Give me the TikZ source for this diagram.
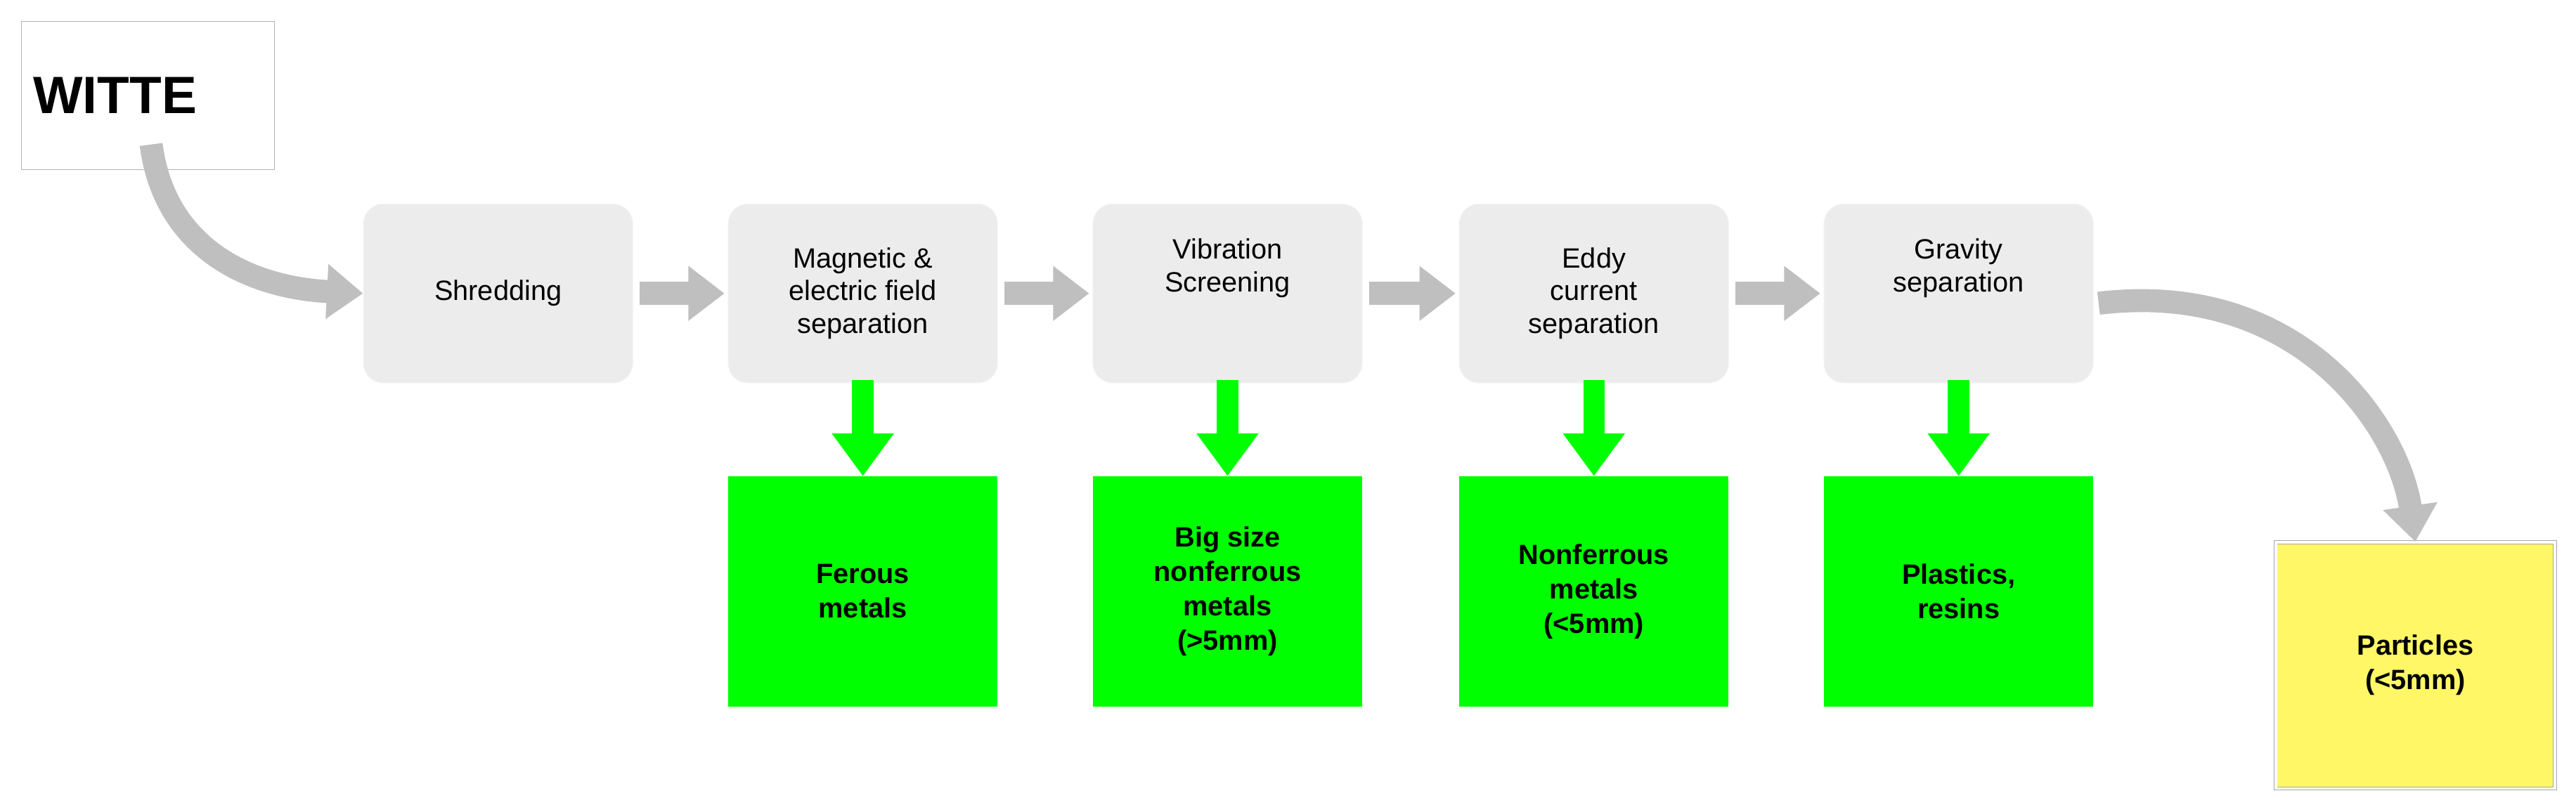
\documentclass[tikz,border=0pt]{standalone}
\usepackage{fontspec}
\setmainfont{Liberation Sans}
\usetikzlibrary{arrows.meta}
\begin{document}
\begin{tikzpicture}[x=1pt,y=-1pt,
 procbox/.style={fill=gray!15,draw=gray!8,rounded corners=12pt,minimum width=164pt,minimum height=109pt,align=center,font=\fontsize{17}{20}\selectfont,anchor=north west},
 outbox/.style={fill=green,minimum width=164pt,minimum height=140pt,align=center,font=\fontsize{17}{21}\selectfont\bfseries,anchor=north west},
 garr/.style={draw=gray!50,line width=14pt,-{Triangle[width=32pt,length=22pt]}},
 grn/.style={draw=green,line width=13pt,-{Triangle[width=36pt,length=26pt]}}]
\useasboundingbox (0,0) rectangle (1568,490);
\node[draw=gray!60,fill=white,minimum width=154pt,minimum height=90pt,anchor=north west,font=\fontsize{32}{36}\selectfont\bfseries,text width=140pt,align=left,inner xsep=6pt] (w) at (13,13) {WITTE};
\node[procbox] (s1) at (221,124) {Shredding};
\node[procbox] (s2) at (443,124) {Magnetic \&\\electric field\\separation};
\node[procbox] (s3) at (665,124) {Vibration\\Screening\\[14pt]};
\node[procbox] (s4) at (888,124) {Eddy\\current\\separation};
\node[procbox] (s5) at (1110,124) {Gravity\\separation\\[14pt]};
\node[outbox] (o2) at (443,290) {Ferous\\metals};
\node[outbox] (o3) at (665,290) {Big size\\nonferrous\\metals\\(>5mm)};
\node[outbox] (o4) at (888,290) {Nonferrous\\metals\\(<5mm)};
\node[outbox] (o5) at (1110,290) {Plastics,\\resins};
\node[fill=yellow!60,draw=gray!70,double=white,double distance=1.5pt,minimum width=170pt,minimum height=150pt,anchor=north west,align=center,font=\fontsize{17}{21}\selectfont\bfseries] (y) at (1385,330) {Particles\\(<5mm)};
\coordinate (wa) at (92,88);
\draw[garr] (wa) .. controls (100,150) and (150,175) .. (s1.west);
\foreach \a/\b in {s1/s2,s2/s3,s3/s4,s4/s5}{\draw[garr] ([xshift=4pt]\a.east) -- ([xshift=-2pt]\b.west);}
\draw[garr] ([xshift=3pt,yshift=-6pt]s5.east) .. controls (1400,170) and (1460,260) .. (y.north);
\foreach \a/\b in {s2/o2,s3/o3,s4/o4,s5/o5}{\draw[grn] ([yshift=2pt]\a.south) -- (\b.north);}
\end{tikzpicture}
\end{document}
